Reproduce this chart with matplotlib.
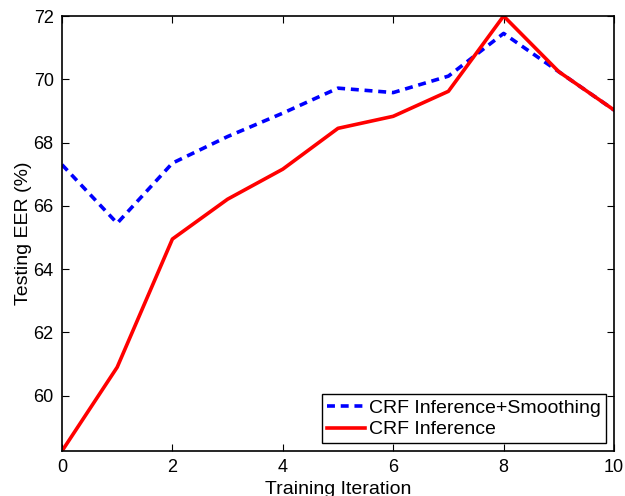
import matplotlib
matplotlib.use("Agg")
import matplotlib.pyplot as plt

iterations = [0, 1, 2, 3, 4, 5, 6, 7, 8, 9, 10]
smoothing = [67.3, 65.45, 67.35, 68.19, 68.93, 69.72, 69.58, 70.1, 71.45, 70.24, 69.03]
inference = [58.25, 60.9, 64.95, 66.21, 67.16, 68.45, 68.83, 69.62, 72.0, 70.24, 69.03]
xticks = [0, 2, 4, 6, 8, 10]
yticks = [60, 62, 64, 66, 68, 70, 72]

plt.rcParams['font.family'] = ['Liberation Sans', 'DejaVu Sans']

fig = plt.figure(figsize=(6.25, 4.96), dpi=100)
ax = fig.add_axes([0.0992, 0.0907, 0.8832, 0.877])

ax.plot(iterations, smoothing, color='#0000ff', linestyle=(0, (2.2, 1.6)), linewidth=2.6,
        label='CRF Inference+Smoothing')
ax.plot(iterations, inference, color='#ff0000', linestyle='-', linewidth=2.6,
        label='CRF Inference')

ax.set_xlim(0, 10)
ax.set_ylim(58.25, 72)
ax.set_xticks(xticks)
ax.set_yticks(yticks)
ax.tick_params(direction='in', top=True, right=True, labelsize=13, length=5, width=0.8, pad=6)
for s in ax.spines.values():
    s.set_linewidth(1.2)

ax.set_xlabel('Training Iteration', fontsize=14, labelpad=3)
ax.set_ylabel('Testing EER (%)', fontsize=14, labelpad=1)

leg = ax.legend(loc='lower right', fontsize=14, fancybox=False, framealpha=1,
                edgecolor='black', handlelength=1.95, handletextpad=0.25,
                borderpad=0.25, labelspacing=0.2, borderaxespad=0.4)
leg.get_frame().set_linewidth(1.0)

fig.savefig('out.png', dpi=100)
